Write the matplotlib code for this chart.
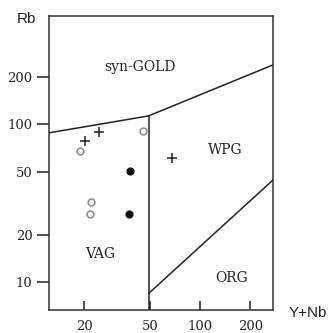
import matplotlib
matplotlib.use('Agg')
import matplotlib.pyplot as plt

# Field boundaries (Y+Nb, Rb)
upper_x = [12, 48.7, 274]
upper_y = [88, 113, 238]
vag_wpg_x = [49, 49]
vag_wpg_y = [6.6, 113]
org_x = [49, 274]
org_y = [8.5, 44.4]

# Samples
plus_x = [20.3, 24.4, 67.5]
plus_y = [79, 88.8, 61.2]
open_x = [18.9, 45.1, 22.1, 21.7]
open_y = [67.8, 90.8, 32.0, 27.0]
filled_x = [37.7, 37.2]
filled_y = [50.7, 27.0]

# Field labels
field_names = ['syn-GOLD', 'WPG', 'VAG', 'ORG']
field_x = [43.3, 140.7, 24.9, 155]
field_y = [231, 68.8, 15.1, 10.6]

xticks = [20, 50, 100, 200]
yticks = [10, 20, 50, 100, 200]

fig = plt.figure(figsize=(3.3, 3.33), dpi=100)
ax = fig.add_axes([0.147, 0.069, 0.680, 0.883])
ax.set_xscale('log')
ax.set_yscale('log')
ax.set_xlim(12.2, 273.7)
ax.set_ylim(6.66, 486)

line_kw = dict(color='#222222', lw=1.1)
ax.plot(upper_x, upper_y, **line_kw)
ax.plot(vag_wpg_x, vag_wpg_y, **line_kw)
ax.plot(org_x, org_y, **line_kw)

ax.scatter(plus_x, plus_y, marker='+', s=48, color='#222222', linewidths=1.1, zorder=3)
ax.scatter(open_x, open_y, marker='o', s=24, facecolors='white',
           edgecolors='#8a8a8a', linewidths=1.1, zorder=3)
ax.scatter(filled_x, filled_y, marker='o', s=24, color='#111111', zorder=3)

for name, x, y in zip(field_names, field_x, field_y):
    ax.text(x, y, name, family='DejaVu Serif', fontsize=10, color='#222222',
            ha='center', va='center')

ax.set_xticks(xticks)
ax.set_xticklabels([str(v) for v in xticks])
ax.set_yticks(yticks)
ax.set_yticklabels([str(v) for v in yticks])
ax.minorticks_off()
ax.tick_params(axis='x', direction='in', length=6.5, width=1.1, pad=7,
               colors='#222222', labelsize=9.5)
ax.tick_params(axis='y', direction='out', length=8.5, width=1.1, pad=3,
               colors='#222222', labelsize=9.5)
for lab in ax.get_xticklabels() + ax.get_yticklabels():
    lab.set_family('DejaVu Serif')

for sp in ax.spines.values():
    sp.set_linewidth(1.1)
    sp.set_color('#333333')

fig.text(26 / 330, 1 - 19 / 333, 'Rb', family='Liberation Sans', fontsize=11,
         ha='center', va='center', color='#222222')
fig.text(308 / 330, 1 - 313 / 333, 'Y+Nb', family='Liberation Sans', fontsize=11,
         ha='center', va='center', color='#222222')

fig.savefig('out.png', dpi=100)
